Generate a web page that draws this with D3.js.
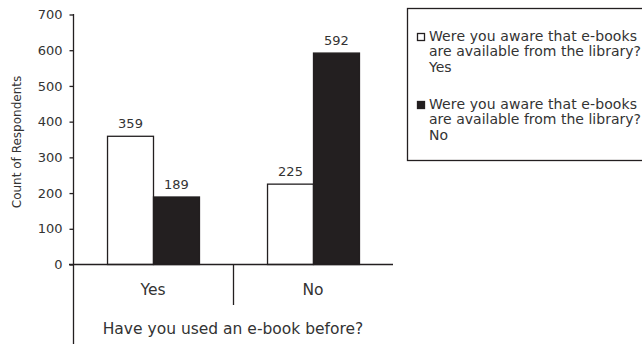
<!DOCTYPE html>
<html>
<head>
<meta charset="utf-8">
<script src="https://cdn.jsdelivr.net/npm/d3@7"></script>
<style>
  html, body { margin: 0; padding: 0; background: #fff; }
  svg { display: block; font-family: "DejaVu Sans", Verdana, sans-serif; }
</style>
</head>
<body>
<svg id="chart" width="642" height="344"></svg>
<script>
const categories = ["Yes", "No"];
const seriesNames = [
  ["Were you aware that e-books", "are available from the library?", "Yes"],
  ["Were you aware that e-books", "are available from the library?", "No"]
];
const seriesYes = [359, 225];
const seriesNo = [189, 592];
const yTicks = [0, 100, 200, 300, 400, 500, 600, 700];
const xTitle = "Have you used an e-book before?";
const yTitle = "Count of Respondents";

const ink = "#231f20";
const textCol = "#333";
const fills = ["#ffffff", ink];

const svg = d3.select("#chart");
const pLeft = 73, pRight = 393, pTop = 14, pBase = 264;

const y = d3.scaleLinear().domain([0, 700]).range([pBase, pTop]);
const x0 = d3.scaleBand().domain(categories).range([pLeft, pRight]).padding(0);
const x1 = d3.scaleBand().domain([0, 1]).range([0, x0.bandwidth()]).paddingInner(0).paddingOuter(0.74);

const data = categories.map((c, i) => ({ cat: c, values: [seriesYes[i], seriesNo[i]] }));

// bars
const g = svg.append("g");
data.forEach(d => {
  d.values.forEach((v, s) => {
    const bx = x0(d.cat) + x1(s);
    g.append("rect")
      .attr("x", bx + 0.5).attr("y", y(v) + 0.5)
      .attr("width", x1.bandwidth()).attr("height", pBase - y(v))
      .attr("fill", fills[s]).attr("stroke", ink).attr("stroke-width", 1.3);
    g.append("text")
      .attr("x", bx + x1.bandwidth() / 2 + 0.5).attr("y", y(v) - 8)
      .attr("text-anchor", "middle").attr("font-size", 13).attr("fill", textCol)
      .text(v);
  });
});

// y axis
const yAxis = d3.axisLeft(y).tickValues(yTicks).tickSize(4).tickPadding(7);
const ya = svg.append("g").attr("transform", `translate(${pLeft + 0.5},0.5)`).call(yAxis);
ya.select(".domain").remove();
ya.selectAll(".tick line").attr("stroke", ink).attr("stroke-width", 1.3);
ya.selectAll(".tick text").attr("font-size", 13).attr("fill", textCol)
  .attr("font-family", "DejaVu Sans, Verdana, sans-serif");

svg.append("line").attr("x1", pLeft + 0.5).attr("x2", pLeft + 0.5).attr("y1", pTop).attr("y2", 344)
  .attr("stroke", ink).attr("stroke-width", 1.3);
svg.append("line").attr("x1", pLeft - 4).attr("x2", pRight).attr("y1", pBase + 0.5).attr("y2", pBase + 0.5)
  .attr("stroke", ink).attr("stroke-width", 1.3);
// category divider
svg.append("line").attr("x1", x0("No") + 0.5).attr("x2", x0("No") + 0.5).attr("y1", pBase).attr("y2", 305)
  .attr("stroke", ink).attr("stroke-width", 1.3);

// category labels
svg.selectAll(".cat").data(categories).enter().append("text")
  .attr("x", d => x0(d) + x0.bandwidth() / 2).attr("y", 295)
  .attr("text-anchor", "middle").attr("font-size", 15.5).attr("fill", textCol)
  .text(d => d);

svg.append("text").attr("x", (pLeft + pRight) / 2).attr("y", 334)
  .attr("text-anchor", "middle").attr("font-size", 15.5).attr("fill", textCol).text(xTitle);

svg.append("text").attr("transform", `translate(21,${(pTop + pBase) / 2 + 3}) rotate(-90)`)
  .attr("text-anchor", "middle").attr("font-size", 12).attr("fill", textCol).text(yTitle);

// legend
const lg = svg.append("g");
lg.append("rect").attr("x", 407.5).attr("y", 8.5).attr("width", 300).attr("height", 152)
  .attr("fill", "none").attr("stroke", ink).attr("stroke-width", 1.3);
const entryTop = [41, 109];
const lineWidths = [208, 212, null];
seriesNames.forEach((lines, s) => {
  lg.append("rect").attr("x", 417.5).attr("y", entryTop[s] - 7.5).attr("width", 7).attr("height", 7)
    .attr("fill", fills[s]).attr("stroke", ink).attr("stroke-width", 1.3);
  lines.forEach((ln, k) => {
    const t = lg.append("text").attr("x", 429).attr("y", entryTop[s] + k * 15.3)
      .attr("font-size", 14).attr("fill", textCol).text(ln);
    if (lineWidths[k]) t.attr("textLength", lineWidths[k]).attr("lengthAdjust", "spacing");
  });
});
</script>
</body>
</html>
